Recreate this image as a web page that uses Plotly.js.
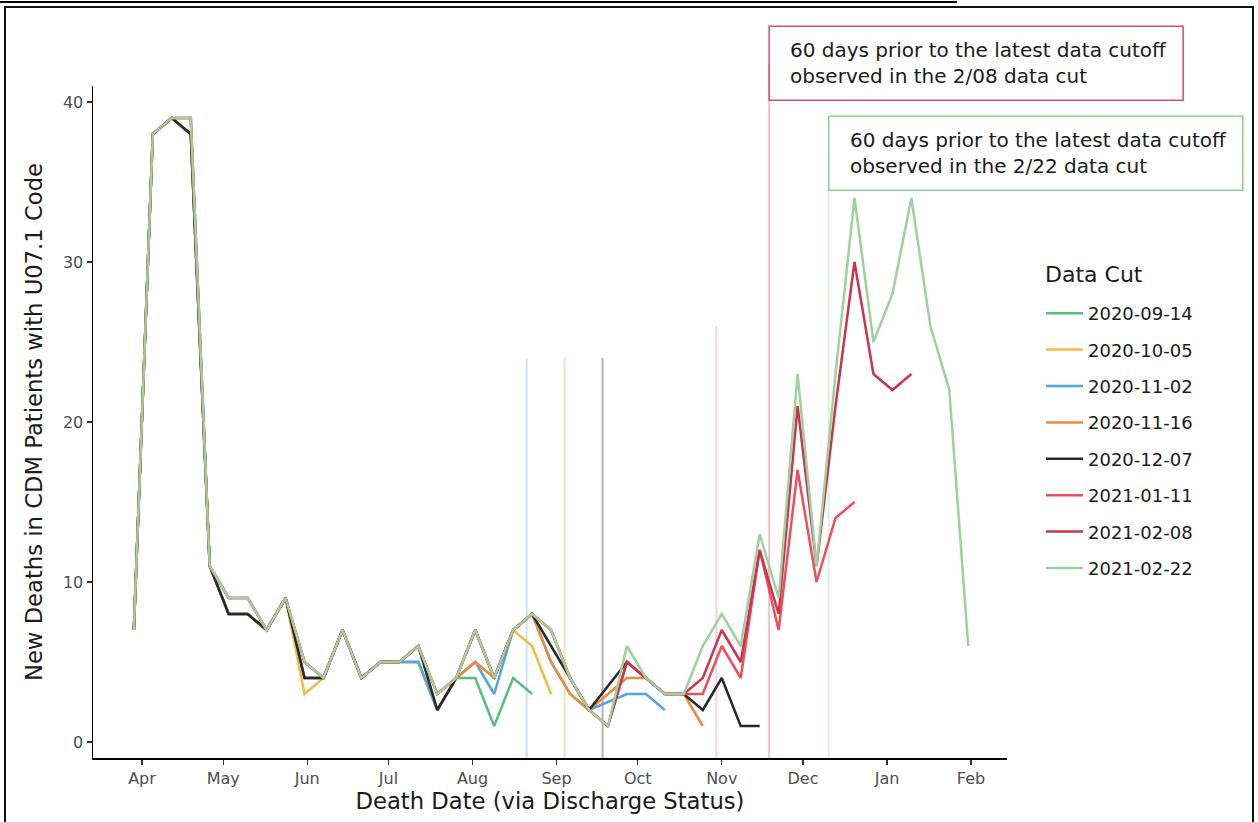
<!DOCTYPE html>
<html>
<head>
<meta charset="utf-8">
<script src="https://cdn.plot.ly/plotly-3.0.1.min.js"></script>
<style>
  html, body { margin: 0; padding: 0; background: #fff; overflow: hidden; }
  #chart { position: absolute; left: 0; top: 0; width: 1258px; height: 822px; }
  #rule { position: absolute; left: 0; top: 1px; width: 957px; height: 2px; background: #000; }
  #frame { position: absolute; left: 4px; top: 6px; width: 1250px; height: 840px;
           border: 2px solid #111; box-sizing: border-box; pointer-events: none; }
</style>
</head>
<body>
<div id="rule"></div>
<div id="chart"></div>
<div id="frame"></div>
<script>
// Weekly death-date bins (week starting Sunday)
const weeks = [
  '2020-03-29','2020-04-05','2020-04-12','2020-04-19','2020-04-26','2020-05-03','2020-05-10',
  '2020-05-17','2020-05-24','2020-05-31','2020-06-07','2020-06-14','2020-06-21','2020-06-28',
  '2020-07-05','2020-07-12','2020-07-19','2020-07-26','2020-08-02','2020-08-09','2020-08-16',
  '2020-08-23','2020-08-30','2020-09-06','2020-09-13','2020-09-20','2020-09-27','2020-10-04',
  '2020-10-11','2020-10-18','2020-10-25','2020-11-01','2020-11-08','2020-11-15','2020-11-22',
  '2020-11-29','2020-12-06','2020-12-13','2020-12-20','2020-12-27','2021-01-03','2021-01-10',
  '2021-01-17','2021-01-24','2021-01-31'
];

// New deaths per week, one array per data cut (null = no row for that week)
const cut_2020_09_14 = [7,38,39,38,11,8,8,7,9,4, 4,7,4,5,5,5,2,4,4,1, 4,3];
const cut_2020_10_05 = [7,38,39,38,11,8,8,7,9,3, 4,7,4,5,5,5,2,4,5,4, 7,6,3];
const cut_2020_11_02 = [7,38,39,38,11,8,8,7,9,4, 4,7,4,5,5,5,2,4,5,3, 7,8,5,3,2,null,3,3,2];
const cut_2020_11_16 = [7,38,39,38,11,8,8,7,9,4, 4,7,4,5,5,6,2,4,5,4, 7,8,5,3,2,null,4,4,3,3, 1];
const cut_2020_12_07 = [7,38,39,38,11,8,8,7,9,4, 4,7,4,5,5,6,2,4,7,4, 7,8,6,4,2,null,5,4,3,3, 2,4,1,1];
const cut_2021_01_11 = [7,38,39,39,11,9,9,7,9,5, 4,7,4,5,5,6,3,4,7,4, 7,8,7,4,2,1,5,4,3,3, 3,6,4,12,7,17,10,14,15];
const cut_2021_02_08 = [7,38,39,39,11,9,9,7,9,5, 4,7,4,5,5,6,3,4,7,4, 7,8,7,4,2,1,5,4,3,3, 4,7,5,12,8,21,11,21,30,23, 22,23];
const cut_2021_02_22 = [7,38,39,39,11,9,9,7,9,5, 4,7,4,5,5,6,3,4,7,4, 7,8,7,4,2,1,6,4,3,3, 6,8,6,13,9,23,11,23,34,25, 28,34,26,22,6];

const cutLabels = ['2020-09-14','2020-10-05','2020-11-02','2020-11-16','2020-12-07','2021-01-11','2021-02-08','2021-02-22'];
const cutSeries = [cut_2020_09_14, cut_2020_10_05, cut_2020_11_02, cut_2020_11_16,
                   cut_2020_12_07, cut_2021_01_11, cut_2021_02_08, cut_2021_02_22];

// 60-days-before-latest-cutoff markers
const markerCuts  = ['2020-11-02','2020-11-16','2020-12-07','2021-01-11','2021-02-08','2021-02-22'];
const markerDates = ['2020-08-21T00:00:00','2020-09-04T00:00:00','2020-09-18T00:00:00',
                     '2020-10-30T00:00:00','2020-11-18T12:00:00','2020-12-10T12:00:00'];
const markerTops  = [24, 24, 24, 26, null, null];   // null: runs up to its text box

const noteCuts  = ['2021-02-08','2021-02-22'];
const noteTexts = [
  '60 days prior to the latest data cutoff<br>observed in the 2/08 data cut',
  '60 days prior to the latest data cutoff<br>observed in the 2/22 data cut'
];
const legendHeading = 'Data Cut';

// ---- styling ----
const FONT = "'DejaVu Sans', 'Open Sans', sans-serif";
const X_RANGE = ['2020-03-13T22:00:00', '2021-02-14T07:00:00'];
const lineColors = {
  '2020-09-14': '#55BD7F',
  '2020-10-05': '#F7B93E',
  '2020-11-02': '#4FA6E0',
  '2020-11-16': '#EE8A3A',
  '2020-12-07': '#25282E',
  '2021-01-11': '#EE4D5D',
  '2021-02-08': '#C9344F',
  '2021-02-22': '#9FD09D'
};
const markerColors = {
  '2020-11-02': 'rgba(79,166,224,0.30)',
  '2020-11-16': 'rgba(238,138,58,0.30)',
  '2020-12-07': 'rgba(37,40,46,0.35)',
  '2021-01-11': 'rgba(238,77,93,0.25)',
  '2021-02-08': 'rgba(201,52,79,0.30)',
  '2021-02-22': 'rgba(159,208,157,0.35)'
};
const noteBorders = { '2021-02-08': '#D94A72', '2021-02-22': '#8FD08F' };
const noteY = { '2021-02-08': 1.034, '2021-02-22': 0.900 };
const NOTE_W = 414, NOTE_H = 74, NOTE_PAD = 19;

// fraction of the x axis occupied up to a given date (for label boxes that leave the plot area)
function xFraction(d) {
  const a = Date.parse(X_RANGE[0]), b = Date.parse(X_RANGE[1]);
  return (Date.parse(d) - a) / (b - a);
}

const traces = cutLabels.map((name, i) => ({
  type: 'scatter',
  mode: 'lines',
  name: name,
  legendgroup: name,
  x: weeks.slice(0, cutSeries[i].length),
  y: cutSeries[i],
  connectgaps: true,
  line: { color: lineColors[name], width: 2.5 },
  hoverinfo: 'x+y+name'
}));

const shapes = markerCuts.map((c, i) => {
  const top = markerTops[i];
  if (top === null) {
    return { type: 'line', layer: 'below', xref: 'x', yref: 'paper',
             x0: markerDates[i], x1: markerDates[i], y0: 0, y1: noteY[c],
             line: { color: markerColors[c], width: 2 } };
  }
  return { type: 'line', layer: 'below', xref: 'x', yref: 'y',
           x0: markerDates[i], x1: markerDates[i], y0: -1, y1: top,
           line: { color: markerColors[c], width: 2 } };
});

// white label boxes, left edge on their marker line
noteCuts.forEach(c => {
  const d = markerDates[markerCuts.indexOf(c)];
  shapes.push({
    type: 'rect', layer: 'above',
    xref: 'paper', xsizemode: 'pixel', xanchor: xFraction(d), x0: 0, x1: NOTE_W,
    yref: 'paper', ysizemode: 'pixel', yanchor: noteY[c], y0: -NOTE_H / 2, y1: NOTE_H / 2,
    fillcolor: '#ffffff', line: { color: noteBorders[c], width: 1.5 }
  });
});

const annotations = noteCuts.map((c, i) => ({
  xref: 'x', yref: 'paper',
  x: markerDates[markerCuts.indexOf(c)], xanchor: 'left', xshift: NOTE_PAD,
  y: noteY[c], yanchor: 'middle',
  text: noteTexts[i], align: 'left',
  showarrow: false,
  font: { family: FONT, size: 20, color: '#1a1a1a' }
}));

annotations.push({
  xref: 'paper', yref: 'paper', x: 1.0394, xanchor: 'left', y: 0.7202, yanchor: 'middle',
  text: legendHeading, showarrow: false,
  font: { family: FONT, size: 22, color: '#1a1a1a' }
});

const layout = {
  width: 1258, height: 822,
  margin: { l: 93, r: 251, t: 86, b: 64 },
  paper_bgcolor: 'rgba(0,0,0,0)',
  plot_bgcolor: '#ffffff',
  font: { family: FONT, color: '#1a1a1a' },
  showlegend: true,
  xaxis: {
    type: 'date',
    range: X_RANGE,
    tick0: '2020-01-01', dtick: 'M1', tickformat: '%b',
    showgrid: false, zeroline: false,
    showline: true, linecolor: '#000', linewidth: 1.5,
    ticks: 'outside', ticklen: 5, tickwidth: 1.2, tickcolor: '#333',
    tickfont: { family: FONT, size: 16, color: '#4d4d4d' },
    title: { text: 'Death Date (via Discharge Status)', standoff: 3,
             font: { family: FONT, size: 22.7, color: '#1a1a1a' } }
  },
  yaxis: {
    range: [-1, 41],
    dtick: 10, tick0: 0,
    showgrid: false, zeroline: false,
    showline: true, linecolor: '#000', linewidth: 1.5,
    ticks: 'outside', ticklen: 5, tickwidth: 1.2, tickcolor: '#333',
    tickfont: { family: FONT, size: 16, color: '#4d4d4d' },
    title: { text: 'New Deaths in CDM Patients with U07.1 Code', standoff: 14,
             font: { family: FONT, size: 22.7, color: '#1a1a1a' } }
  },
  legend: {
    x: 1.0372, xanchor: 'left', y: 0.689, yanchor: 'top',
    font: { family: FONT, size: 18, color: '#1a1a1a' },
    tracegroupgap: 10, itemwidth: 37,
    bgcolor: 'rgba(0,0,0,0)', borderwidth: 0
  },
  shapes: shapes,
  annotations: annotations
};

Plotly.newPlot('chart', traces, layout, { displayModeBar: false, staticPlot: true });
</script>
</body>
</html>
